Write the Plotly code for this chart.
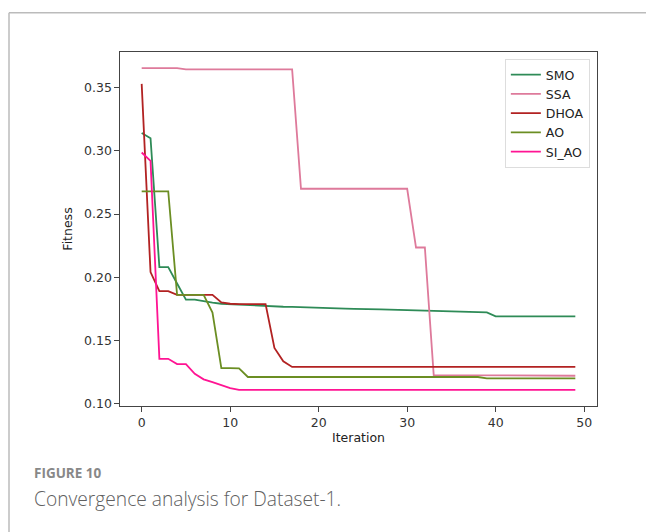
import plotly.graph_objects as go

# Iteration index for every curve
iterations = list(range(50))

# Best fitness per iteration for each optimiser
smo = [0.3142, 0.3100, 0.2080, 0.2080, 0.1950, 0.1822, 0.1822, 0.1808, 0.1798, 0.1790,
       0.1786, 0.1782, 0.1778, 0.1774, 0.1770, 0.1768, 0.1766, 0.1765, 0.1762, 0.1758,
       0.1755, 0.1755, 0.1755, 0.1752, 0.1750, 0.1750, 0.1747, 0.1745, 0.1744, 0.1742,
       0.1740, 0.1738, 0.1736, 0.1734, 0.1734, 0.1734, 0.1732, 0.1729, 0.1726, 0.1722,
       0.1690, 0.1690, 0.1690, 0.1690, 0.1690, 0.1690, 0.1690, 0.1690, 0.1690, 0.1690]

ssa = [0.3655] * 5 + [0.3645] * 13 + [0.2700] * 13 + [0.2235] * 2 + [0.1225] * 6 + [0.1220] * 11

dhoa = [0.3530, 0.2040, 0.1890, 0.1890, 0.1860, 0.1860, 0.1860, 0.1860, 0.1860, 0.1800,
        0.1790, 0.1787, 0.1787, 0.1787, 0.1787, 0.1440, 0.1335, 0.1290] + [0.1290] * 32

ao = [0.2680, 0.2680, 0.2680, 0.2680, 0.1860, 0.1860, 0.1860, 0.1860, 0.1720, 0.1280,
      0.1280, 0.1278, 0.1210] + [0.1210] * 26 + [0.1200] * 11

si_ao = [0.2987, 0.2920, 0.1354, 0.1354, 0.1312, 0.1312, 0.1235, 0.1192, 0.1170, 0.1143,
         0.1122, 0.1108] + [0.1108] * 38

series = [
    ("SMO", smo, "#2E8B57"),
    ("SSA", ssa, "#DE7A9B"),
    ("DHOA", dhoa, "#B22222"),
    ("AO", ao, "#6B8E23"),
    ("SI_AO", si_ao, "#FF1493"),
]

fig = go.Figure()
for name, values, color in series:
    fig.add_trace(go.Scatter(
        x=iterations, y=values, mode="lines", name=name,
        line=dict(color=color, width=1.8),
    ))

# autoscale with a 5% pad like the usual plotting defaults
all_vals = smo + ssa + dhoa + ao + si_ao
lo, hi = min(all_vals), max(all_vals)
pad = (hi - lo) * 0.05
xpad = (iterations[-1] - iterations[0]) * 0.05

tick_font = dict(family="DejaVu Sans", size=12.5, color="#333333")
axis_common = dict(
    showline=True, linecolor="#444444", linewidth=1.2, mirror=True,
    ticks="outside", ticklen=4.5, tickwidth=1.1, tickcolor="#444444",
    showgrid=False, zeroline=False, tickfont=tick_font,
)

fig.update_layout(
    width=646, height=532,
    margin=dict(l=120, r=49, t=52, b=126),
    paper_bgcolor="white", plot_bgcolor="white",
    showlegend=True,
    legend=dict(
        x=0.985, y=0.98, xanchor="right", yanchor="top",
        bgcolor="rgba(255,255,255,0.9)", bordercolor="#DDDDDD", borderwidth=1,
        font=dict(family="DejaVu Sans", size=12.5, color="#222222"),
        itemwidth=30, tracegroupgap=0,
    ),
    xaxis=dict(
        range=[iterations[0] - xpad, iterations[-1] + xpad],
        tickvals=[0, 10, 20, 30, 40, 50],
        title=dict(text="Iteration", font=dict(family="DejaVu Sans", size=12.5, color="#222222"), standoff=4),
        **axis_common,
    ),
    yaxis=dict(
        range=[lo - pad, hi + pad],
        tickvals=[0.10, 0.15, 0.20, 0.25, 0.30, 0.35],
        tickformat=".2f",
        title=dict(text="Fitness", font=dict(family="DejaVu Sans", size=12.5, color="#222222"), standoff=8),
        **axis_common,
    ),
)

# Panel border (top and left rules) around the figure block
W, H = 646.0, 532.0
x0_px, x1_px = 120.0, W - 49.0
y0_px, y1_px = 52.0, H - 126.0


def px_to_paper_x(px):
    return (px - x0_px) / (x1_px - x0_px)


def px_to_paper_y(py):
    return (y1_px - py) / (y1_px - y0_px)


border = dict(color="#BBBBBB", width=1.5)
fig.add_shape(type="line", xref="paper", yref="paper",
              x0=px_to_paper_x(9), x1=px_to_paper_x(W + 5),
              y0=px_to_paper_y(12.7), y1=px_to_paper_y(12.7), line=border)
fig.add_shape(type="line", xref="paper", yref="paper",
              x0=px_to_paper_x(9), x1=px_to_paper_x(9),
              y0=px_to_paper_y(12.7), y1=px_to_paper_y(H + 5), line=border)

# Caption
fig.add_annotation(
    text="<b>FIGURE 10</b>", xref="paper", yref="paper",
    x=px_to_paper_x(32), y=px_to_paper_y(473), xanchor="left", yanchor="middle",
    showarrow=False, font=dict(family="Open Sans", size=13.5, color="#888888"),
)
fig.add_annotation(
    text="Convergence analysis for Dataset-1.", xref="paper", yref="paper",
    x=px_to_paper_x(32), y=px_to_paper_y(498), xanchor="left", yanchor="middle",
    showarrow=False, font=dict(family="Open Sans", size=19.2, color="#606060", weight=300),
)

fig.write_html("out.html")
